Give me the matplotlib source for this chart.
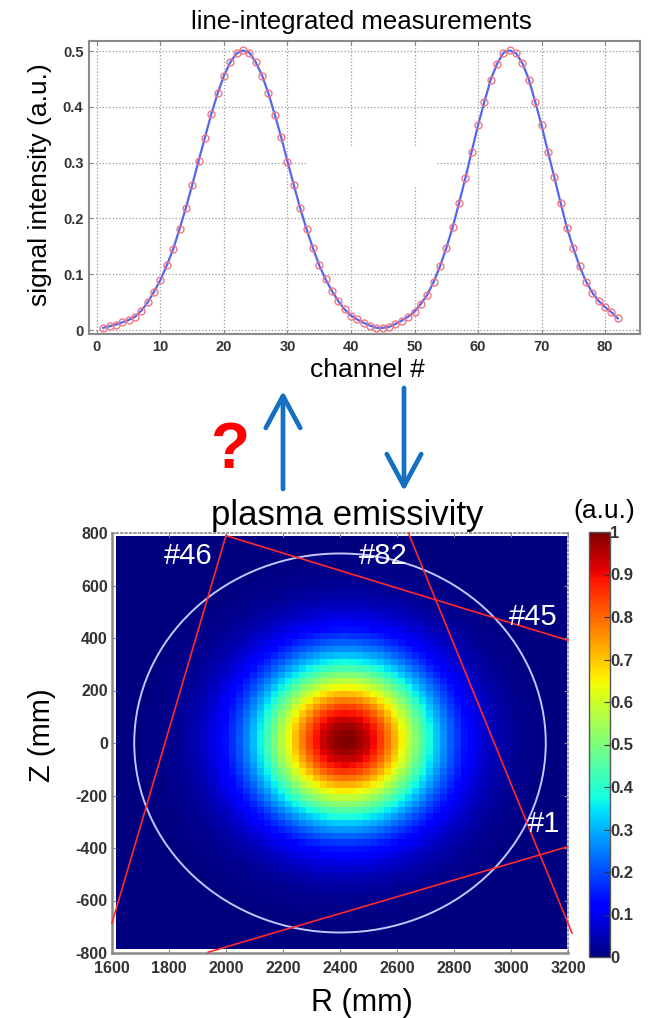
import numpy as np
import matplotlib
matplotlib.use("Agg")
import matplotlib.pyplot as plt
from matplotlib.patches import Rectangle, Circle, FancyArrowPatch, ArrowStyle

plt.rcParams["font.family"] = ["Liberation Sans", "DejaVu Sans"]
plt.rcParams["axes.unicode_minus"] = False

# ---- line-integrated measurements, one value per channel
channels = list(range(1, 83))
signal = [
    0.004, 0.007, 0.010, 0.014, 0.018, 0.024, 0.035, 0.050, 0.069, 0.090,
    0.116, 0.145, 0.181, 0.219, 0.260, 0.303, 0.345, 0.387, 0.424, 0.456,
    0.480, 0.496, 0.501, 0.497, 0.480, 0.456, 0.424, 0.386, 0.346, 0.302,
    0.260, 0.218, 0.181, 0.147, 0.116, 0.091, 0.070, 0.052, 0.037, 0.026,
    0.019, 0.013, 0.008, 0.004, 0.004, 0.006, 0.011, 0.017, 0.024, 0.033,
    0.047, 0.063, 0.086, 0.114, 0.147, 0.184, 0.227, 0.272, 0.320, 0.367,
    0.409, 0.449, 0.477, 0.497, 0.501, 0.496, 0.478, 0.449, 0.409, 0.367,
    0.320, 0.274, 0.228, 0.183, 0.147, 0.114, 0.087, 0.067, 0.052, 0.041,
    0.032, 0.021,
]
x_ticks = [0, 10, 20, 30, 40, 50, 60, 70, 80]
y_ticks = [0, 0.1, 0.2, 0.3, 0.4, 0.5]

# ---- emissivity model (gaussian blob) and geometry, in mm
emis_peak = 1.0
emis_R0, emis_Z0 = 2420.0, 10.0
emis_sigma = 212.0
img_extent = [1614, 3196, -785, 785]
n_cells = 64

vessel_R0, vessel_Z0, vessel_radius = 2400.0, 0.0, 722.0

chord_labels = ["#46", "#45", "#82", "#1"]
chord_R = [[2000, 1600], [2000, 3200], [2640, 3214], [1937, 3196]]
chord_Z = [[790, -686], [790, 391], [800, -724], [-797, -396]]
label_R = [1867, 3077, 2551, 3116]
label_Z = [712, 480, 712, -309]

R_ticks = [1600, 1800, 2000, 2200, 2400, 2600, 2800, 3000, 3200]
Z_ticks = [-800, -600, -400, -200, 0, 200, 400, 600, 800]
cb_ticks = [0, 0.1, 0.2, 0.3, 0.4, 0.5, 0.6, 0.7, 0.8, 0.9, 1]

W, H = 651, 1018
fig = plt.figure(figsize=(W / 100, H / 100), dpi=100)


def fx(px):
    return px / W


def fy(py):
    return 1 - py / H


spine_col = "#8a8a8a"
tick_col = "#333333"

# ======================= top: measurements =======================
ax1 = fig.add_axes([fx(89), fy(334), fx(640) - fx(89), fy(41) - fy(334)])
ax1.plot(channels, signal, color="#5566ee", lw=1.6, zorder=3)
ax1.plot(channels, signal, ls="none", marker="o", ms=5, mfc="none",
         mec="#f07585", mew=1.0, zorder=4)
ax1.set_xlim(-1.25, 85.5)
ax1.set_ylim(-0.007, 0.518)
ax1.set_xticks(x_ticks)
ax1.set_yticks(y_ticks)
ax1.set_yticklabels(["0", "0.1", "0.2", "0.3", "0.4", "0.5"])
ax1.grid(True, ls=":", color="#9a9a9a", lw=0.9)
# erased patch in the grid (as in the original figure)
ax1.add_patch(Rectangle((33.0, 0.256), 20.6, 0.072, facecolor="white",
                        edgecolor="none", zorder=1.8))
for s in ax1.spines.values():
    s.set_color(spine_col)
    s.set_linewidth(1.5)
ax1.tick_params(direction="in", length=3, color=spine_col, top=True, right=True,
                labelsize=10.5, labelcolor=tick_col, pad=4)
for lab in ax1.get_xticklabels() + ax1.get_yticklabels():
    lab.set_fontweight("bold")

fig.text(fx(361), fy(22), "line-integrated measurements", fontsize=18.5,
         ha="center", va="center")
fig.text(fx(367), fy(370), "channel #", fontsize=19, ha="center", va="center")
fig.text(fx(40), fy(185), "signal intensity (a.u.)", fontsize=19,
         ha="center", va="center", rotation=90)

# ======================= arrows and question mark =======================
arr_style = ArrowStyle("->", head_length=1.15, head_width=0.62)
for (x0, y0), (x1, y1) in [((283, 489), (283, 391)), ((404, 388), (404, 491))]:
    fig.patches.append(FancyArrowPatch(
        (fx(x0), fy(y0)), (fx(x1), fy(y1)), transform=fig.transFigure,
        arrowstyle=arr_style, mutation_scale=20, lw=3.4, color="#1570c2",
        capstyle="round", joinstyle="round", shrinkA=0, shrinkB=0))
fig.text(fx(230), fy(451), "?", fontsize=46, fontweight="bold", color="#ff0000",
         ha="center", va="center")

# ======================= bottom: emissivity map =======================
ax2 = fig.add_axes([fx(112), fy(953), fx(568) - fx(112), fy(533) - fy(953)])
R_edges = np.linspace(img_extent[0], img_extent[1], n_cells + 1)
Z_edges = np.linspace(img_extent[2], img_extent[3], n_cells + 1)
Rc = 0.5 * (R_edges[:-1] + R_edges[1:])
Zc = 0.5 * (Z_edges[:-1] + Z_edges[1:])
RR, ZZ = np.meshgrid(Rc, Zc)
emis = emis_peak * np.exp(-((RR - emis_R0) ** 2 + (ZZ - emis_Z0) ** 2)
                          / (2 * emis_sigma ** 2))
im = ax2.imshow(emis, cmap="jet", vmin=0, vmax=1, origin="lower",
                extent=img_extent, interpolation="nearest", aspect="auto",
                zorder=1)
ax2.add_patch(Circle((vessel_R0, vessel_Z0), vessel_radius, fill=False,
                     edgecolor="#c4c6ff", lw=1.4, zorder=2))
for rr, zz in zip(chord_R, chord_Z):
    ax2.plot(rr, zz, color="#ff2a2a", lw=1.2, zorder=3, clip_on=False)
for lab, r, z in zip(chord_labels, label_R, label_Z):
    ax2.text(r, z, lab, color="white", fontsize=21, ha="center", va="center",
             zorder=4)
ax2.set_xlim(1600, 3200)
ax2.set_ylim(-800, 800)
ax2.set_xticks(R_ticks)
ax2.set_yticks(Z_ticks)
for name, s in ax2.spines.items():
    s.set_color(spine_col)
    if name in ("top", "right"):
        s.set_linestyle(":")
        s.set_linewidth(1.2)
    else:
        s.set_linewidth(1.8)
ax2.tick_params(direction="in", length=3, color=spine_col, top=True, right=True,
                labelsize=11.5, labelcolor=tick_col)
ax2.tick_params(axis="x", pad=6)
ax2.tick_params(axis="y", pad=3)
for lab in ax2.get_xticklabels() + ax2.get_yticklabels():
    lab.set_fontweight("bold")

fig.text(fx(347), fy(515), "plasma emissivity", fontsize=25, ha="center",
         va="center")
fig.text(fx(362), fy(1003), "R (mm)", fontsize=22, ha="center", va="center")
fig.text(fx(42), fy(735), "Z (mm)", fontsize=21, ha="center", va="center",
         rotation=90)

# colorbar
cax = fig.add_axes([fx(589), fy(957), fx(610) - fx(589), fy(532) - fy(957)])
cb = fig.colorbar(im, cax=cax, ticks=cb_ticks)
cb.ax.set_yticklabels(["0", "0.1", "0.2", "0.3", "0.4", "0.5", "0.6", "0.7",
                       "0.8", "0.9", "1"])
cb.outline.set_edgecolor("#555555")
cb.outline.set_linewidth(1.0)
cb.ax.tick_params(direction="in", length=4, color="#333333", labelsize=12,
                  labelcolor=tick_col, pad=0)
for lab in cb.ax.get_yticklabels():
    lab.set_fontweight("bold")
fig.text(fx(604), fy(511), "(a.u.)", fontsize=19, ha="center", va="center")

fig.savefig("out.png", dpi=100)
